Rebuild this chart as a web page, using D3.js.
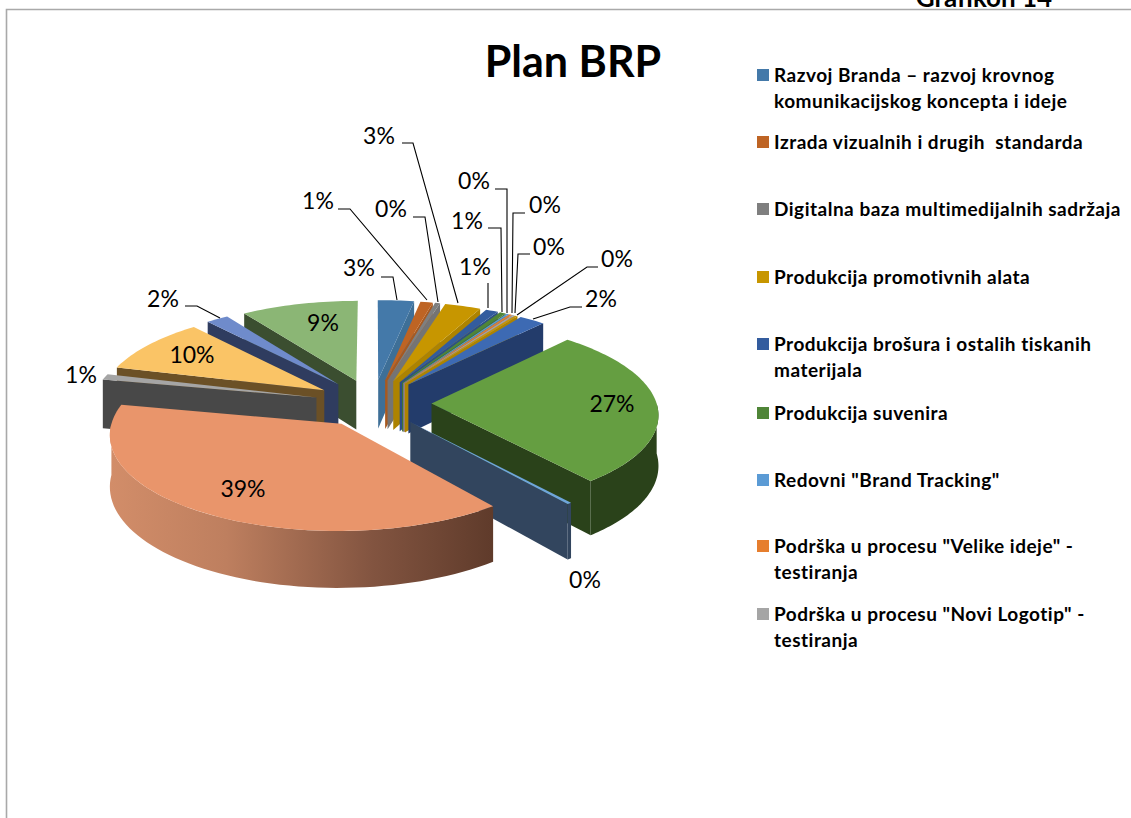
<!DOCTYPE html>
<html>
<head>
<meta charset="utf-8">
<script src="https://cdnjs.cloudflare.com/ajax/libs/d3/7.8.5/d3.min.js"></script>
<style>
html,body{margin:0;padding:0;background:#fff;overflow:hidden}
svg{display:block}
text{font-family:Lato,"Open Sans",sans-serif;fill:#000;font-variant-ligatures:none;white-space:pre}
</style>
</head>
<body>
<div id="chart"></div>
<script>
const chartTitle = "Plan BRP";
const headerText = "Grafikon 14";
const legendLabels = [
  ["Razvoj Branda – razvoj krovnog","komunikacijskog koncepta i ideje"],
  ["Izrada vizualnih i drugih  standarda"],
  ["Digitalna baza multimedijalnih sadržaja"],
  ["Produkcija promotivnih alata"],
  ["Produkcija brošura i ostalih tiskanih","materijala"],
  ["Produkcija suvenira"],
  ["Redovni \"Brand Tracking\""],
  ["Podrška u procesu \"Velike ideje\" -","testiranja"],
  ["Podrška u procesu \"Novi Logotip\" -","testiranja"]
];
const legendColors = ["#4479A9","#BE6424","#7F7F7F","#C79600","#335C9E","#4F8537","#5B9BD5","#E67E2E","#A5A5A5"];
// slice values, percent, clockwise from 12 o'clock
const sliceValues = [2.9,1.0,0.4,2.9,1.0,0.5,0.2,0.2,0.2,0.2,2.1,27.4,0.3,38.7,1.0,9.5,1.8,9.4];
const sliceTops  = ["#4479A9","#BE6424","#7F7F7F","#C79600","#335C9E","#4F8537","#5B9BD5","#E67E2E","#A5A5A5","#C79600","#3D6AB3","#659E41","#6FA5DA","#E9956B","#A5A5A5","#FAC466","#6F8BCB","#8BB675"];
const sliceCuts  = ["#3E6F97","#A8591F","#747474","#AD8300","#2B4E88","#44732F","#4F87BA","#C86C28","#8F8F8F","#AD8300","#233C6B","#2A421A","#32455E","#5E3A2A","#484848","#6B5026","#2F3C5F","#3B4E30"];
const labelLayout = [
  {c:[359,268],p:[[381,277],[393,277],[397,300]]},
  {c:[318,201],p:[[338,209],[350,209],[427,300]]},
  {c:[391,209],p:[[413,217],[425,217],[438,302]]},
  {c:[379,136],p:[[402,143],[413,143],[458,303]]},
  {c:[475,267],p:[[488,283],[488,308]]},
  {c:[467,221],p:[[488,228],[501,228],[502,312]]},
  {c:[474,181],p:[[495,189],[507,189],[507,313]]},
  {c:[545,205],p:[[525,213],[513,213],[512,313]]},
  {c:[549,247],p:[[530,254],[518,254],[515,313]]},
  {c:[617,259],p:[[598,267],[587,267],[517,315]]},
  {c:[601,299],p:[[582,307],[570,307],[533,319]]},
  {c:[612,404]},
  {c:[585,580]},
  {c:[243,489]},
  {c:[81,375]},
  {c:[192,355]},
  {c:[163,299],p:[[185,306],[197,306],[220,318]]},
  {c:[323,323]}
];
const legendRows = [75,142,209,277,344,413,480,546,614];

const W=1131,H=818;
const svg=d3.select("#chart").append("svg").attr("width",W).attr("height",H);
const defs=svg.append("defs");
const cp=defs.append("clipPath").attr("id","topclip");
cp.append("rect").attr("x",0).attr("y",0).attr("width",W).attr("height",9);

// frame
svg.append("path").attr("d",`M${W},9.5H6.5V${H}`).attr("fill","none").attr("stroke","#a9a9a9").attr("stroke-width",1.6);
svg.append("text").attr("clip-path","url(#topclip)").attr("x",984).attr("y",7).attr("text-anchor","middle")
  .attr("font-size",26).attr("font-weight",700).text(headerText);
svg.append("text").attr("x",573).attr("y",77).attr("text-anchor","middle").attr("font-size",43).attr("font-weight",700).text(chartTitle);

// projection
const cx=373,cy=403,Rx=225,Ry=92,k=0.10,depth=50,explode=0.26;
const xS=d3.scaleLinear().domain([-1,1]).range([cx-Rx,cx+Rx]);
const yS=d3.scaleLinear().domain([-1,1]).range([cy+Ry,cy-Ry]);
const project=(X,Y,z)=>{const s=1/(1+k*Y);return [xS(X*s),yS(Y*s)+z*depth*s];};
const line=d3.line();

const pie=d3.pie().sort(null).startAngle(0).endAngle(2*Math.PI)(sliceValues);
pie.forEach((d,i)=>{
  d.i=i;d.mid=(d.startAngle+d.endAngle)/2;
  d.ox=explode*Math.sin(d.mid);d.oy=explode*Math.cos(d.mid);
});
const rim=(d,a,z)=>project(d.ox+Math.sin(a),d.oy+Math.cos(a),z);
const apex=(d,z)=>project(d.ox,d.oy,z);

const wallGrad=defs.append("linearGradient").attr("id","salmonWall").attr("gradientUnits","userSpaceOnUse")
  .attr("x1",110).attr("x2",497).attr("y1",0).attr("y2",0);
wallGrad.append("stop").attr("offset",0).attr("stop-color","#D28D69");
wallGrad.append("stop").attr("offset",0.3).attr("stop-color","#BE7F5F");
wallGrad.append("stop").attr("offset",0.68).attr("stop-color","#825440");
wallGrad.append("stop").attr("offset",1).attr("stop-color","#5E3A2A");

const order=pie.slice().sort((a,b)=>Math.cos(b.mid)-Math.cos(a.mid));
const gPie=svg.append("g");
order.forEach(d=>{
  const g=gPie.append("g");
  const a0=d.startAngle,a1=d.endAngle;
  if(Math.sin(a0)<0) g.append("path").attr("d",line([apex(d,0),rim(d,a0,0),rim(d,a0,1),apex(d,1)])+"Z").attr("fill",sliceCuts[d.i]);
  if(Math.sin(a1)>0) g.append("path").attr("d",line([apex(d,0),rim(d,a1,0),rim(d,a1,1),apex(d,1)])+"Z").attr("fill",sliceCuts[d.i]);
  const lo=Math.max(a0,Math.PI/2),hi=Math.min(a1,3*Math.PI/2);
  if(hi>lo){
    const as=d3.range(0,61).map(t=>lo+(hi-lo)*t/60);
    const pts=as.map(a=>rim(d,a,0)).concat(as.slice().reverse().map(a=>rim(d,a,1)));
    g.append("path").attr("d",line(pts)+"Z").attr("fill",d.i===13?"url(#salmonWall)":sliceCuts[d.i]);
  }
  const n=Math.max(2,Math.ceil((a1-a0)*40));
  const top=[apex(d,0)].concat(d3.range(0,n+1).map(t=>rim(d,a0+(a1-a0)*t/n,0)));
  g.append("path").attr("d",line(top)+"Z").attr("fill",sliceTops[d.i]);
});

// data labels
const gLab=svg.append("g");
labelLayout.forEach((l,i)=>{
  if(l.p) gLab.append("path").attr("d",line(l.p)).attr("fill","none").attr("stroke","#000").attr("stroke-width",1.1);
  gLab.append("text").attr("x",l.c[0]).attr("y",l.c[1]).attr("dy","0.35em").attr("text-anchor","middle")
    .attr("font-size",23).text(Math.round(sliceValues[i])+"%");
});

// legend
const gLeg=svg.append("g");
legendLabels.forEach((lines,i)=>{
  const y=legendRows[i];
  gLeg.append("rect").attr("x",757).attr("y",y-6).attr("width",12).attr("height",12).attr("fill",legendColors[i]);
  lines.forEach((t,j)=>{
    gLeg.append("text").attr("x",774).attr("y",y+j*26.5).attr("dy","0.35em").attr("font-size",19).attr("letter-spacing",0.5).attr("font-weight",700).text(t);
  });
});
</script>
</body>
</html>
